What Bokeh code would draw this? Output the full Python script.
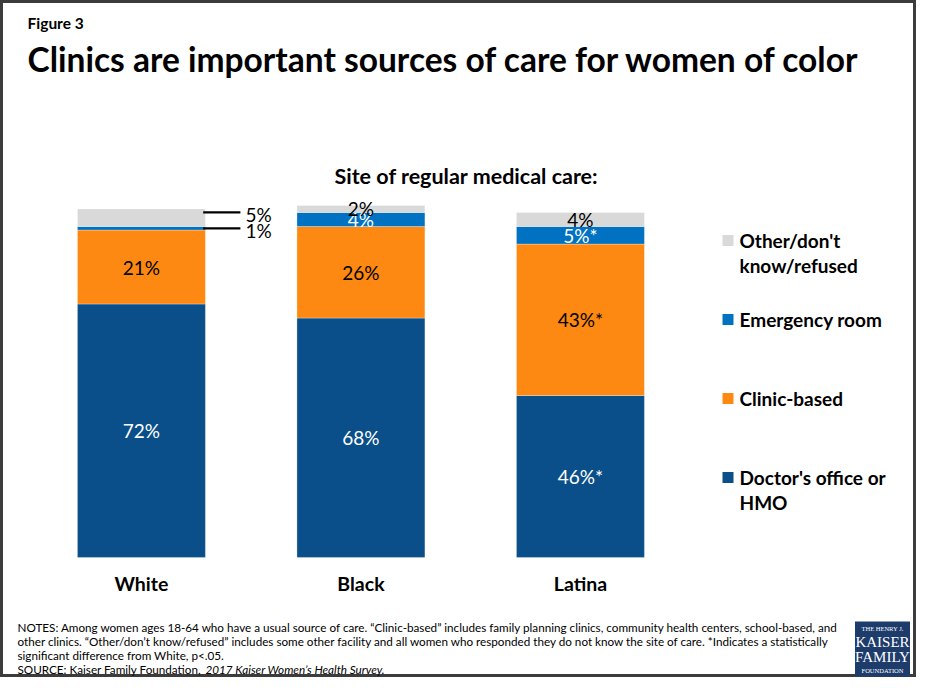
from bokeh.plotting import figure
from bokeh.models import ColumnDataSource, Range1d
from bokeh.core.properties import value
from bokeh.embed import file_html
from bokeh.resources import INLINE

# ---------------- data ----------------
categories = ["White", "Black", "Latina"]
doctor = [72, 68, 46]
clinic = [21, 26, 43]
er = [1, 4, 5]
other = [5, 2, 4]
doctor_lbl = ["72%", "68%", "46%*"]
clinic_lbl = ["21%", "26%", "43%*"]
er_lbl = ["1%", "4%", "5%*"]
other_lbl = ["5%", "2%", "4%"]
series_keys = ["doctor", "clinic", "er", "other"]
series_names = ["Doctor's office or\nHMO", "Clinic-based", "Emergency room", "Other/don't\nknow/refused"]
colors = ["#0a4f89", "#fd8812", "#0072c1", "#d9d9d9"]
label_colors = ["white", "black", "white", "black"]
callout = [True, False, False]   # small White segments labelled outside the bar

title = "Clinics are important sources of care for women of color"
subtitle = "Site of regular medical care:"
fig_label = "Figure 3"
notes = [
    "NOTES: Among women ages 18-64 who have a usual source of care. \u201cClinic-based\u201d includes family planning clinics, community health centers, school-based, and",
    "other clinics. \u201cOther/don\u2019t know/refused\u201d includes  some other facility and all women who responded they do not know the site of care. *Indicates a statistically",
    "significant difference from White, p<.05.",
]
source_plain = "SOURCE: Kaiser Family Foundation, "
source_italic = "2017 Kaiser Women\u2019s Health Survey"

FONT = value("Lato")

# ---------------- figure ----------------
W, H = 916, 677
p = figure(width=W, height=H, output_backend="svg", toolbar_location=None,
           x_range=Range1d(-0.642, 3.531), y_range=Range1d(-34.1, 158.2),
           x_axis_type=None, y_axis_type=None,
           min_border=0, min_border_left=0, min_border_right=0,
           min_border_top=0, min_border_bottom=0)
p.extra_x_ranges = {"px": Range1d(0, 916)}
p.extra_y_ranges = {"px": Range1d(685, 8)}
p.xgrid.visible = False
p.ygrid.visible = False
p.outline_line_color = "#3c3c3c"
p.outline_line_width = 5
p.background_fill_color = "white"
p.border_fill_color = "white"

xs = list(range(len(categories)))
src = ColumnDataSource(dict(x=xs, doctor=doctor, clinic=clinic, er=er, other=other))
BW = 0.583
p.vbar_stack(series_keys, x="x", width=BW, color=colors, source=src,
             line_color="white", line_width=0.5, line_alpha=0.6)

# ---------------- segment labels ----------------
series_vals = [doctor, clinic, er, other]
series_lbls = [doctor_lbl, clinic_lbl, er_lbl, other_lbl]
lx, ly, lt, lc = [], [], [], []
cx, cy, ct = [], [], []
sx0, sx1, sy = [], [], []
for i in xs:
    bottom = 0
    for k, (vals, lbls) in enumerate(zip(series_vals, series_lbls)):
        v = vals[i]
        mid = bottom + v / 2
        if callout[i] and k >= 2:
            yline = mid + (1.5 if k == 3 else 0)
            sx0.append(i + BW / 2 - 0.01)
            sx1.append(i + 0.451)
            sy.append(yline)
            cx.append(i + 0.474)
            cy.append(yline - 0.7)
            ct.append(lbls[i])
        else:
            lx.append(i)
            ly.append(mid)
            lt.append(lbls[i])
            lc.append(label_colors[k])
        bottom += v

p.text(x=lx, y=ly, text=lt, text_color=lc, text_font=FONT, text_font_size="19px",
       text_align="center", text_baseline="middle")
p.segment(x0=sx0, x1=sx1, y0=sy, y1=sy, line_color="black", line_width=2.2)
p.text(x=cx, y=cy, text=ct, text_color="black", text_font=FONT, text_font_size="19px",
       text_align="left", text_baseline="middle")

# category labels
p.text(x=xs, y=[-7.4] * len(xs), text=categories, text_color="black", text_font=FONT,
       text_font_size="19.5px", text_font_style="bold", text_align="center",
       text_baseline="middle")

# ---------------- titles ----------------
px = dict(x_range_name="px", y_range_name="px")
p.text(x=[27], y=[30], text=[fig_label], text_font=FONT, text_font_size="15.5px",
       text_font_style="bold", text_color="black", text_baseline="middle", **px)
p.text(x=[27], y=[66], text=[title], text_font=FONT, text_font_size="33.5px",
       text_font_style="bold", text_color="black", text_baseline="middle", **px)
p.text(x=[466], y=[183], text=[subtitle], text_font=FONT, text_font_size="21.5px",
       text_font_style="bold", text_color="black", text_align="center",
       text_baseline="middle", **px)

# ---------------- legend ----------------
leg_y0 = [248, 327, 406, 485]
order = [3, 2, 1, 0]
sq_x, sq_y, sq_c = [], [], []
tx, ty, tt = [], [], []
for row, k in enumerate(order):
    y0 = leg_y0[row]
    sq_x.append(727.5)
    sq_y.append(y0)
    sq_c.append(colors[k])
    for j, line in enumerate(series_names[k].split("\n")):
        tx.append(739)
        ty.append(y0 + 24.5 * j)
        tt.append(line)
p.scatter(x=sq_x, y=sq_y, marker="square", size=11, fill_color=sq_c, line_color=None, **px)
p.text(x=tx, y=ty, text=tt, text_font=FONT, text_font_size="19px", text_font_style="bold",
       text_color="black", text_baseline="middle", **px)

# ---------------- notes ----------------
note_y = [634, 648, 662]
p.text(x=[17] * len(notes), y=note_y, text=notes, text_font=FONT, text_font_size="11.7px",
       text_color="black", text_baseline="middle", **px)
p.text(x=[17], y=[676], text=[source_plain], text_font=FONT, text_font_size="11.7px",
       text_color="black", text_baseline="middle", **px)
p.text(x=[205], y=[676], text=[source_italic + "."], text_font=FONT, text_font_size="11.7px",
       text_font_style="italic", text_color="black", text_baseline="middle", **px)

# ---------------- logo ----------------
p.rect(x=[882], y=[656.5], width=[55], height=[55], fill_color="#1d3c6c", line_color=None, **px)
SERIF = value("Liberation Serif")
p.text(x=[882], y=[636], text=["THE HENRY J."], text_font=SERIF, text_font_size="6.5px",
       text_color="white", text_align="center", text_baseline="middle", **px)
p.text(x=[882, 882], y=[649, 664], text=["KAISER", "FAMILY"], text_font=SERIF,
       text_font_size="15px", text_color="white", text_align="center",
       text_baseline="middle", **px)
p.text(x=[882], y=[678], text=["FOUNDATION"], text_font=SERIF, text_font_size="6.5px",
       text_color="white", text_align="center", text_baseline="middle", **px)

open("out.html", "w").write(file_html(p, INLINE))
